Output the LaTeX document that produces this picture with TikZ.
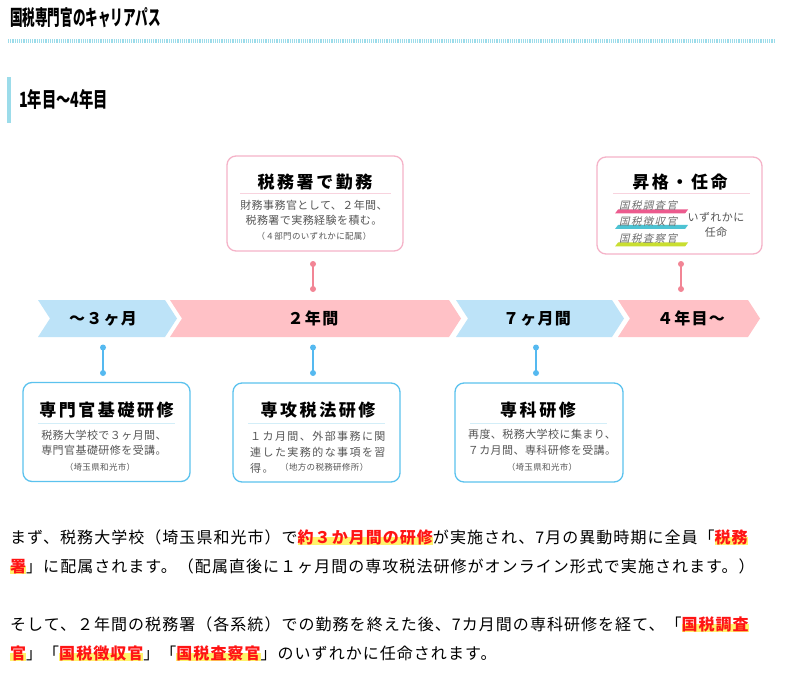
\documentclass[tikz,border=0pt]{standalone}
\usepackage{fontspec}
\usepackage{graphicx}
\setmainfont{Noto Sans CJK JP}
\newfontfamily\titlefont{Noto Sans CJK JP}[LetterSpace=15]
\newfontfamily\bodyfont{Noto Sans CJK JP}[LetterSpace=4]
\newfontfamily\parafont{Noto Sans CJK JP}[LetterSpace=6.5]
\newfontfamily\widefont{Noto Sans CJK JP}[LetterSpace=13]
\newfontfamily\chevfont{Noto Sans CJK JP}[LetterSpace=8]
\usetikzlibrary{positioning, calc}

\definecolor{boxpink}{HTML}{F5B3C8}
\definecolor{boxblue}{HTML}{5BC2EE}
\definecolor{seppink}{HTML}{F8D3DE}
\definecolor{sepblue}{HTML}{D3EEF8}
\definecolor{chevblue}{HTML}{BDE3F8}
\definecolor{chevpink}{HTML}{FFC1C6}
\definecolor{dotpink}{HTML}{F28595}
\definecolor{dotblue}{HTML}{55B9F0}
\definecolor{stripe}{HTML}{9CDCEA}
\definecolor{bodygray}{HTML}{555555}
\definecolor{taggray}{HTML}{6E6E6E}
\definecolor{tagpink}{HTML}{EC5B8E}
\definecolor{tagcyan}{HTML}{4DC3D3}
\definecolor{tagyellow}{HTML}{C9DE30}
\definecolor{hlred}{HTML}{FF1414}
\definecolor{hlyellow}{HTML}{FFF36B}

\newcommand\hlmark[1]{\setbox0=\hbox{\bfseries #1}%
  \rlap{\color{hlyellow}\rule[-0.14em]{\wd0}{0.5em}}\textcolor{hlred}{\box0}}

\tikzset{
  topbox/.style={draw=boxpink, line width=1.3pt, rounded corners=9pt, fill=white,
    minimum width=176pt, minimum height=95pt, inner sep=0pt},
  botbox/.style={draw=boxblue, line width=1.3pt, rounded corners=9pt, fill=white,
    minimum width=167pt, minimum height=99pt, inner sep=0pt},
  boxtitle/.style={font=\titlefont\bfseries\fontsize{17}{20}\selectfont, inner sep=0pt},
  boxtext/.style={font=\bodyfont\fontsize{11}{13}\selectfont, text=bodygray, inner sep=0pt},
  boxnote/.style={font=\bodyfont\fontsize{8.5}{10}\selectfont, text=bodygray, inner sep=0pt},
  tag/.style={font=\widefont\fontsize{10.5}{12}\selectfont, text=taggray, inner sep=0pt,
    xslant=0.22, transform shape},
  dot/.style={circle, fill=#1, minimum size=6pt, inner sep=0pt},
  link/.style={line width=1.3pt},
  chevlabel/.style={font=\chevfont\bfseries\fontsize{16}{18}\selectfont, inner sep=0pt},
  heading/.style={font=\bfseries\fontsize{21}{24}\selectfont, anchor=base west, inner sep=0pt},
  para/.style={font=\parafont\fontsize{16}{19}\selectfont, anchor=base west, inner sep=0pt},
}

\begin{document}
\begin{tikzpicture}[x=1pt, y=-1pt]
  \useasboundingbox[fill=white] (0,0) rectangle (788,674);

  % page heading
  \node[heading] (pagetitle) at (10,26) {\scalebox{0.6}[1]{国税専門官のキャリアパス}};
  \draw[stripe, line width=4pt, dash pattern=on 1.2pt off 1pt] (8,41) -- (775,41);
  \fill[stripe] (7,77) rectangle (11,123);
  \node[heading] (period) at (19,108) {\scalebox{0.68}[1]{1年目〜4年目}};

  % timeline band
  \fill[chevblue] (38,300) -- (165,300) -- (177,318.5) -- (165,337) -- (38,337) -- (50,318.5) -- cycle;
  \fill[chevpink] (170,300) -- (449,300) -- (461,318.5) -- (449,337) -- (170,337) -- (182,318.5) -- cycle;
  \fill[chevblue] (456,300) -- (612,300) -- (624,318.5) -- (612,337) -- (456,337) -- (468,318.5) -- cycle;
  \fill[chevpink] (618,300) -- (748,300) -- (760,318.5) -- (748,337) -- (618,337) -- (630,318.5) -- cycle;
  \node[chevlabel] (basic) at (103,318.5) {〜３ヶ月};
  \node[chevlabel] (office) at (313,318.5) {２年間};
  \node[chevlabel] (special) at (537,318.5) {７ヶ月間};
  \node[chevlabel] (promo) at (691,318.5) {４年目〜};

  % upper boxes
  \node[topbox] (work) at (315,203.5) {};
  \node[boxtitle] (worktitle) at (315,182) {税務署で勤務};
  \draw[seppink, line width=0.7pt] (240,193.5) -- (391,193.5);
  \node[boxtext] (work1) at (314,205) {財務事務官として、２年間、};
  \node[boxtext] (work2) at (314,220) {税務署で実務経験を積む。};
  \node[boxnote] (work3) at (314,236) {（４部門のいずれかに配属）};

  \node[topbox, minimum width=165pt, minimum height=97pt] (rank) at (679.5,205.5) {};
  \node[boxtitle] (ranktitle) at (680,182) {昇格・任命};
  \draw[seppink, line width=0.7pt] (613,193.5) -- (750,193.5);
  \fill[tagpink] (615,213.5) -- (685,213.5) -- (688,209.5) -- (618,209.5) -- cycle;
  \fill[tagcyan] (615,229) -- (685,229) -- (688,225) -- (618,225) -- cycle;
  \fill[tagyellow] (615,246.5) -- (685,246.5) -- (688,242.5) -- (618,242.5) -- cycle;
  \node[tag] (inquiry) at (649,205.5) {国税調査官};
  \node[tag] (collect) at (649,221.5) {国税徴収官};
  \node[tag] (inspect) at (649,238.5) {国税査察官};
  \node[boxtext] (either) at (716,217) {いずれかに};
  \node[boxtext] (appoint) at (716,232) {任命};

  % lower boxes
  \node[botbox] (found) at (106.5,432) {};
  \node[boxtitle] (foundtitle) at (106.5,410) {専門官基礎研修};
  \draw[sepblue, line width=0.7pt] (38,423) -- (175,423);
  \node[boxtext] (found1) at (104,435) {税務大学校で３ヶ月間、};
  \node[boxtext] (found2) at (104,450.5) {専門官基礎研修を受講。};
  \node[boxnote] (found3) at (100,467) {（埼玉県和光市）};

  \node[botbox] (law) at (316.5,432.5) {};
  \node[boxtitle] (lawtitle) at (318,410) {専攻税法研修};
  \draw[sepblue, line width=0.7pt] (248,423) -- (385,423);
  \node[boxtext, font=\widefont\fontsize{11}{13}\selectfont, anchor=west] (law1) at (250,436) {１カ月間、外部事務に関};
  \node[boxtext, font=\widefont\fontsize{11}{13}\selectfont, anchor=west] (law2) at (250,452) {連した実務的な事項を習};
  \node[boxtext, font=\widefont\fontsize{11}{13}\selectfont, anchor=west] (law3) at (250,468) {得。};
  \node[boxnote, anchor=west] (law4) at (280,467.5) {（地方の税務研修所）};

  \node[botbox, minimum width=168pt] (major) at (539,432.5) {};
  \node[boxtitle] (majortitle) at (538,410) {専科研修};
  \draw[sepblue, line width=0.7pt] (470,423) -- (607,423);
  \node[boxtext] (major1) at (542,434) {再度、税務大学校に集まり、};
  \node[boxtext] (major2) at (542,450) {７カ月間、専科研修を受講。};
  \node[boxnote] (major3) at (542,467) {（埼玉県和光市）};

  % connectors
  \node[dot=dotpink] (worktop) at (313,264) {};
  \node[dot=dotpink] (workbot) at (313,289) {};
  \draw[link, dotpink] (worktop.center) -- (workbot.center);
  \node[dot=dotpink] (ranktop) at (681,264) {};
  \node[dot=dotpink] (rankbot) at (681,289) {};
  \draw[link, dotpink] (ranktop.center) -- (rankbot.center);
  \node[dot=dotblue] (foundtop) at (103,347.5) {};
  \node[dot=dotblue] (foundbot) at (103,373) {};
  \draw[link, dotblue] (foundtop.center) -- (foundbot.center);
  \node[dot=dotblue] (lawtop) at (313,347.5) {};
  \node[dot=dotblue] (lawbot) at (313,373) {};
  \draw[link, dotblue] (lawtop.center) -- (lawbot.center);
  \node[dot=dotblue] (majortop) at (536,347.5) {};
  \node[dot=dotblue] (majorbot) at (536,373) {};
  \draw[link, dotblue] (majortop.center) -- (majorbot.center);

  % explanation
  \node[para] (line1) at (10,543) {まず、税務大学校（埼玉県和光市）で\hlmark{約３か月間の研修}が実施され、7月の異動時期に全員「\hlmark{税務}};
  \node[para] (line2) at (10,572) {\hlmark{署}」に配属されます。（配属直後に１ヶ月間の専攻税法研修がオンライン形式で実施されます。）};
  \node[para] (line3) at (10,630) {そして、２年間の税務署（各系統）での勤務を終えた後、7カ月間の専科研修を経て、「\hlmark{国税調査}};
  \node[para] (line4) at (10,659) {\hlmark{官}」「\hlmark{国税徴収官}」「\hlmark{国税査察官}」のいずれかに任命されます。};
\end{tikzpicture}
\end{document}
